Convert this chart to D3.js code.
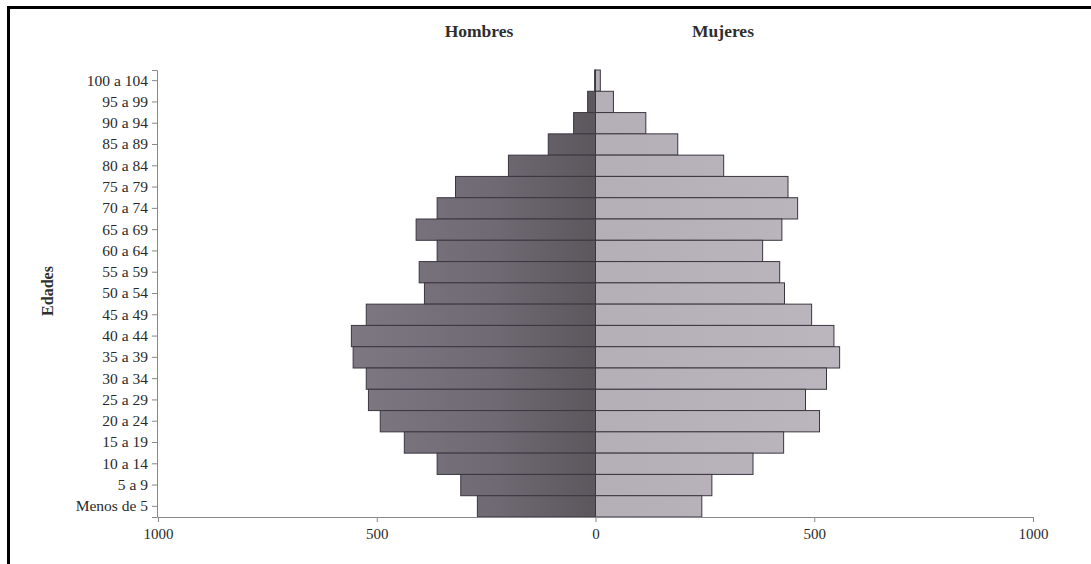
<!DOCTYPE html>
<html>
<head>
  <meta charset="utf-8">
  <title>Pirámide de población</title>
  <style>
    body { margin: 0; background: #fff; }
    .chart { font-family: "Liberation Serif", "DejaVu Serif", serif; }
    .chart .axis text { fill: #2a2a2a; font-family: "Liberation Serif", serif; }
    .chart .axis-y text { font-size: 15.5px; }
    .chart .axis-x text { font-size: 15px; }
    .chart .axis path, .chart .axis line { stroke: #888; }
    .chart .title { font-size: 17.5px; font-weight: bold; fill: #2e2e2e; }
    .chart .ytitle { font-size: 16px; font-weight: bold; fill: #2e2e2e; }
    .chart .bar { stroke: #3b3640; stroke-width: 1; }
  </style>
</head>
<body>
  <svg id="chart" class="chart" width="1091" height="564"></svg>

  <script src="https://d3js.org/d3.v7.min.js"></script>
  <script>
    // Grupos de edad, de arriba hacia abajo
    const edades = ['100 a 104', '95 a 99', '90 a 94', '85 a 89', '80 a 84', '75 a 79',
      '70 a 74', '65 a 69', '60 a 64', '55 a 59', '50 a 54', '45 a 49', '40 a 44',
      '35 a 39', '30 a 34', '25 a 29', '20 a 24', '15 a 19', '10 a 14', '5 a 9', 'Menos de 5'];

    // Valores (mismo orden que edades)
    const hombres = [2, 18, 50, 108, 199, 320, 362, 410, 362, 403, 391, 524, 558, 554,
      524, 519, 492, 437, 362, 308, 270];
    const mujeres = [11, 41, 115, 188, 293, 440, 462, 426, 382, 421, 432, 494, 545, 558,
      528, 480, 512, 430, 360, 266, 243];

    const ejeTicks = [-1000, -500, 0, 500, 1000];

    const svg = d3.select('#chart');

    // Marco
    svg.append('path')
      .attr('d', 'M8.5,564 L8.5,7.5 L1091,7.5')
      .attr('fill', 'none')
      .attr('stroke', '#000')
      .attr('stroke-width', 3);

    const xScale = d3.scaleLinear().domain([-1000, 1000]).range([158, 1033]);
    const yScale = d3.scaleBand().domain(edades).range([70, 517]).padding(0);

    // Degradados para las barras
    const defs = svg.append('defs');
    const gH = defs.append('linearGradient').attr('id', 'gradH')
      .attr('gradientUnits', 'userSpaceOnUse')
      .attr('x1', xScale(-560)).attr('x2', xScale(0)).attr('y1', 0).attr('y2', 0);
    gH.append('stop').attr('offset', '0%').attr('stop-color', '#7d7882');
    gH.append('stop').attr('offset', '60%').attr('stop-color', '#6e6972');
    gH.append('stop').attr('offset', '100%').attr('stop-color', '#5c575d');
    const gM = defs.append('linearGradient').attr('id', 'gradM')
      .attr('gradientUnits', 'userSpaceOnUse')
      .attr('x1', xScale(0)).attr('x2', xScale(560)).attr('y1', 0).attr('y2', 0);
    gM.append('stop').attr('offset', '0%').attr('stop-color', '#b4aeb7');
    gM.append('stop').attr('offset', '100%').attr('stop-color', '#bbb6bd');

    const rows = edades.map((e, i) => ({ edad: e, h: hombres[i], m: mujeres[i] }));

    // Barras de hombres
    svg.selectAll('.bar-h')
      .data(rows)
      .enter()
      .append('rect')
      .attr('class', 'bar bar-h')
      .attr('x', d => xScale(-d.h))
      .attr('y', d => yScale(d.edad))
      .attr('width', d => xScale(0) - xScale(-d.h))
      .attr('height', yScale.bandwidth())
      .attr('fill', 'url(#gradH)');

    // Barras de mujeres
    svg.selectAll('.bar-m')
      .data(rows)
      .enter()
      .append('rect')
      .attr('class', 'bar bar-m')
      .attr('x', xScale(0))
      .attr('y', d => yScale(d.edad))
      .attr('width', d => xScale(d.m) - xScale(0))
      .attr('height', yScale.bandwidth())
      .attr('fill', 'url(#gradM)');

    // Ejes
    svg.append('g')
      .attr('class', 'axis axis-x')
      .attr('transform', `translate(0,${yScale.range()[1]})`)
      .call(d3.axisBottom(xScale).tickValues(ejeTicks).tickFormat(d => Math.abs(d)).tickSize(5).tickPadding(6));

    svg.append('g')
      .attr('class', 'axis axis-y')
      .attr('transform', `translate(${xScale(-1000) - 1},0)`)
      .call(d3.axisLeft(yScale).tickSize(5).tickPadding(4));

    svg.selectAll('.axis .domain').attr('stroke-width', 1);

    // Títulos
    svg.append('text').attr('class', 'title')
      .attr('x', 479).attr('y', 37).attr('text-anchor', 'middle').text('Hombres');
    svg.append('text').attr('class', 'title')
      .attr('x', 723).attr('y', 37).attr('text-anchor', 'middle').text('Mujeres');
    svg.append('text').attr('class', 'ytitle')
      .attr('transform', 'translate(53,291) rotate(-90)')
      .attr('text-anchor', 'middle').text('Edades');
  </script>
</body>
</html>
